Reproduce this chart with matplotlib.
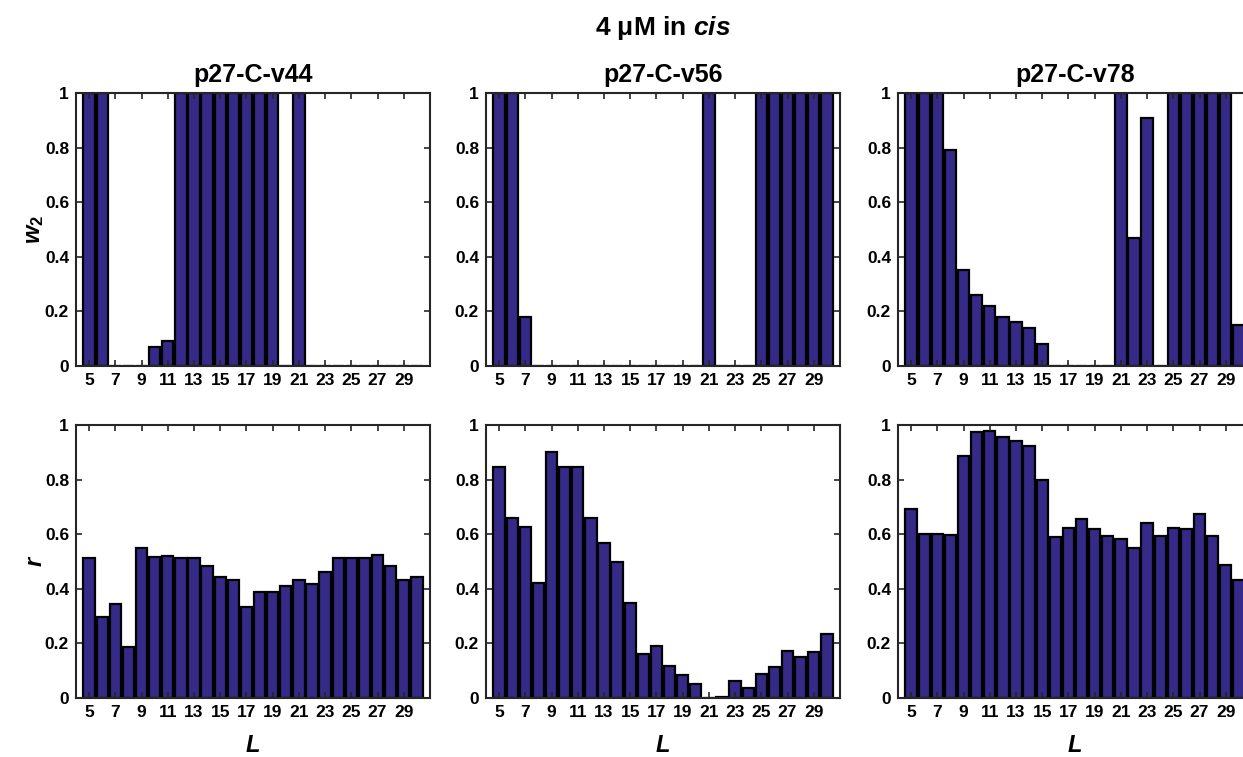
import matplotlib
matplotlib.use('Agg')
import matplotlib.pyplot as plt

plt.rcParams['font.family'] = ['Liberation Sans', 'DejaVu Sans']
plt.rcParams['font.weight'] = 'bold'
plt.rcParams['mathtext.fontset'] = 'custom'
plt.rcParams['mathtext.it'] = 'Liberation Sans:italic:bold'
plt.rcParams['mathtext.rm'] = 'Liberation Sans'
plt.rcParams['mathtext.bf'] = 'Liberation Sans:bold'

# data
L = list(range(5, 31))
names = ['p27-C-v44', 'p27-C-v56', 'p27-C-v78']

w2_v44 = [1, 1, 0, 0, 0, 0.07, 0.09, 1, 1, 1, 1, 1, 1, 1, 1, 0, 1,
          0, 0, 0, 0, 0, 0, 0, 0, 0]
w2_v56 = [1, 1, 0.18, 0, 0, 0, 0, 0, 0, 0, 0, 0, 0, 0, 0, 0, 1,
          0, 0, 0, 1, 1, 1, 1, 1, 1]
w2_v78 = [1, 1, 1, 0.79, 0.35, 0.26, 0.22, 0.18, 0.16, 0.14, 0.08, 0, 0, 0, 0, 0, 1,
          0.47, 0.91, 0, 1, 1, 1, 1, 1, 0.15]

r_v44 = [0.512, 0.295, 0.343, 0.187, 0.549, 0.518, 0.521, 0.513, 0.513, 0.482,
         0.443, 0.433, 0.335, 0.387, 0.387, 0.409, 0.434, 0.419, 0.463, 0.513,
         0.513, 0.513, 0.524, 0.482, 0.433, 0.443]
r_v56 = [0.845, 0.659, 0.627, 0.42, 0.902, 0.845, 0.845, 0.659, 0.568, 0.498,
         0.347, 0.162, 0.192, 0.117, 0.083, 0.051, 0.0, 0.005, 0.064, 0.038,
         0.089, 0.113, 0.172, 0.149, 0.169, 0.233]
r_v78 = [0.692, 0.599, 0.599, 0.596, 0.888, 0.974, 0.979, 0.957, 0.943, 0.924,
         0.797, 0.589, 0.621, 0.654, 0.619, 0.594, 0.584, 0.551, 0.642, 0.594,
         0.623, 0.620, 0.675, 0.593, 0.488, 0.431]

w2_all = [w2_v44, w2_v56, w2_v78]
r_all = [r_v44, r_v56, r_v78]

bar_color = '#352a87'
spine_color = '#262626'
W, H = 1243, 757

fig = plt.figure(figsize=(W / 100, H / 100), dpi=100)

lefts = [76, 486, 898]
ax_w = 354
rows = [(93, 366), (425, 698)]


def style_axis(ax):
    ax.set_xlim(4, 31)
    ax.set_ylim(0, 1)
    ax.set_xticks(list(range(5, 30, 2)))
    ax.set_xticklabels([str(v) for v in range(5, 30, 2)])
    ax.set_yticks([0, 0.2, 0.4, 0.6, 0.8, 1])
    ax.set_yticklabels(['0', '0.2', '0.4', '0.6', '0.8', '1'])
    ax.tick_params(direction='in', top=True, right=True, length=4.5, width=1.2,
                   color=spine_color, labelsize=12.5, pad=5)
    for s in ax.spines.values():
        s.set_color(spine_color)
        s.set_linewidth(1.5)


for row, data in enumerate([w2_all, r_all]):
    top, bot = rows[row]
    for col in range(3):
        ax = fig.add_axes([lefts[col] / W, 1 - bot / H, ax_w / W, (bot - top) / H])
        ax.bar(L, data[col], width=0.86, color=bar_color, edgecolor='black', linewidth=1.6)
        style_axis(ax)
        if row == 0:
            ax.set_title(names[col], fontsize=18, weight='bold', pad=8)
        else:
            fig.text((lefts[col] + ax_w / 2) / W, 1 - 745 / H, r'$L$',
                     ha='center', va='center', fontsize=17)

fig.text(35 / W, 1 - 229 / H, r'$w_2$', rotation=90, ha='center', va='center', fontsize=17)
fig.text(35 / W, 1 - 561 / H, r'$r$', rotation=90, ha='center', va='center', fontsize=17)

fig.text(663 / W, 1 - 35 / H, r'4 $\mathrm{\mu}$M in $cis$', ha='center', va='baseline',
         fontsize=19, weight='bold')

fig.savefig('out.png', dpi=100)
